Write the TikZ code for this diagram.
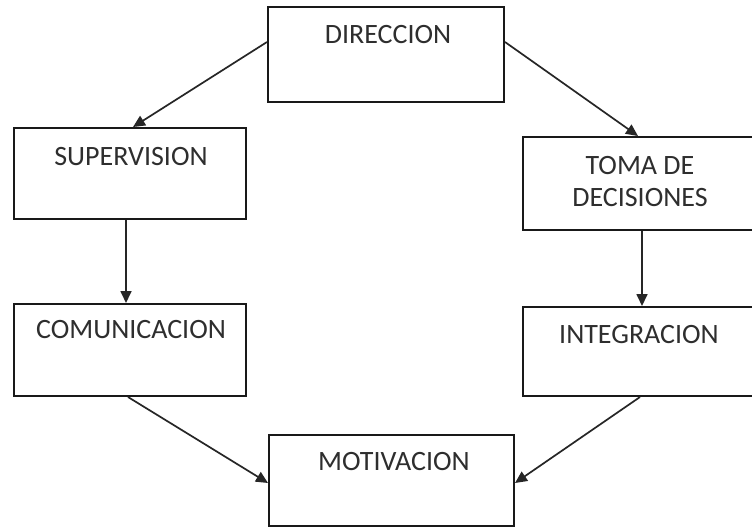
\documentclass[tikz,border=0pt]{standalone}
\usepackage{fontspec}
\setmainfont{Carlito}
\usetikzlibrary{arrows.meta}
\begin{document}
\begin{tikzpicture}[x=1pt,y=-1pt,
  box/.style={draw=black!90,line width=2pt,rectangle,inner sep=0pt},
  lbl/.style={text=black!82,font=\fontsize{28}{32}\selectfont,align=center,inner sep=0pt},
  conn/.style={draw=black!85,line width=1.7pt,-{Triangle[length=12pt,width=11pt]}}]
\useasboundingbox (0,0) rectangle (752,528);
\fill[white] (0,0) rectangle (752,528);
% boxes
\node[box,minimum width=236pt,minimum height=95pt] (dir) at (386,54.5) {};
\node[box,minimum width=232pt,minimum height=91pt] (sup) at (130,173.5) {};
\node[box,minimum width=232pt,minimum height=92pt] (com) at (130,350) {};
\node[box,minimum width=240pt,minimum height=93pt] (toma) at (643,183.5) {};
\node[box,minimum width=240pt,minimum height=89pt] (int) at (643,351.5) {};
\node[box,minimum width=245pt,minimum height=91pt] (mot) at (391.5,480.5) {};
% labels
\node[lbl] (tdir) at (388,35) {DIRECCION};
\node[lbl] (tsup) at (131,157) {SUPERVISION};
\node[lbl] (tcom) at (131,330) {COMUNICACION};
\node[lbl] (ttoma) at (640,181.5) {TOMA DE\\DECISIONES};
\node[lbl] (tint) at (639,335) {INTEGRACION};
\node[lbl] (tmot) at (394,462) {MOTIVACION};
% connectors
\draw[conn] ([yshift=12.5pt]dir.west) -- ([xshift=3pt]sup.north);
\draw[conn] ([yshift=12.5pt]dir.east) -- ([xshift=-5pt]toma.north);
\draw[conn] ([xshift=-4pt]sup.south) -- ([xshift=-4pt]com.north);
\draw[conn] ([xshift=-1pt]toma.south) -- ([xshift=-1pt]int.north);
\draw[conn] ([xshift=-2pt]com.south) -- ([yshift=-2.5pt]mot.west);
\draw[conn] ([xshift=-3pt]int.south) -- ([yshift=-2.5pt]mot.east);
\end{tikzpicture}
\end{document}
